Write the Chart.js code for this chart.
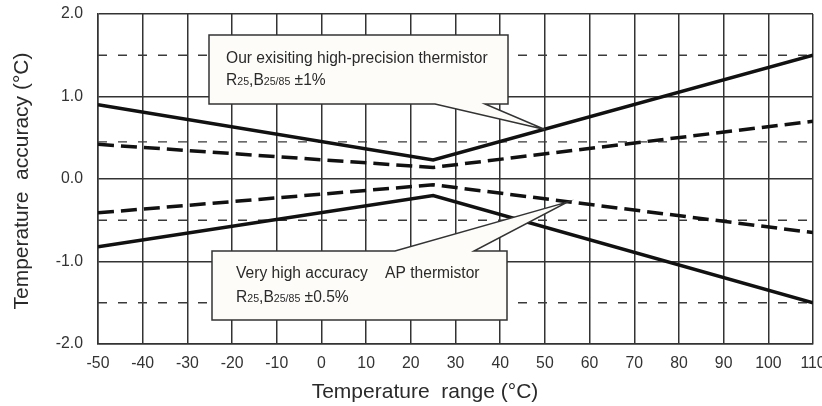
<!DOCTYPE html>
<html>
<head>
<meta charset="utf-8">
<script src="https://cdn.jsdelivr.net/npm/chart.js@4.4.0/dist/chart.umd.min.js"></script>
<style>
  html, body { margin: 0; padding: 0; background: #fff; }
</style>
</head>
<body>
<canvas id="accuracyChart" width="822" height="406"></canvas>
<script>
// Temperature accuracy of thermistors vs temperature

const tempX = [-50, 25, 110];
const existingUpper = [0.9, 0.23, 1.5];
const existingLower = [-0.82, -0.2, -1.5];
const apUpper = [0.42, 0.14, 0.7];
const apLower = [-0.41, -0.07, -0.65];

const limitX = [-50, 110];
const limitLevels = [1.5, 0.45, -0.5, -1.5];

const xTicks = [-50, -40, -30, -20, -10, 0, 10, 20, 30, 40, 50, 60, 70, 80, 90, 100, 110];
const yTicks = [-2, -1, 0, 1, 2];

// callout tips (data coordinates)
const existingTip = { x: 50, y: 0.6 };
const apTip = { x: 55, y: -0.28 };

const FONT = '"Liberation Sans", Arial, sans-serif';
const INK = '#2a2a2a';

function toPoints(xs, ys) {
    return xs.map((x, i) => ({ x: x, y: ys[i] }));
}

const datasets = [
    { data: toPoints(tempX, existingUpper), borderWidth: 3.5 },
    { data: toPoints(tempX, existingLower), borderWidth: 3.5 },
    { data: toPoints(tempX, apUpper), borderWidth: 3.5, borderDash: [16, 7] },
    { data: toPoints(tempX, apLower), borderWidth: 3.5, borderDash: [16, 7] }
].map(d => Object.assign({ borderColor: '#111', pointRadius: 0, tension: 0, fill: false, order: 0 }, d));

limitLevels.forEach(level => {
    datasets.push({
        data: toPoints(limitX, limitX.map(() => level)),
        borderColor: '#3a3a3a',
        borderWidth: 1.4,
        borderDash: [9, 11],
        pointRadius: 0,
        fill: false,
        order: 5
    });
});

// text with small subscripts, runs: [text, small]
function drawRuns(ctx, x, y, runs, size) {
    runs.forEach(r => {
        ctx.font = `${r[1] ? size * 0.68 : size}px ${FONT}`;
        ctx.fillText(r[0], x, y);
        x += ctx.measureText(r[0]).width;
    });
}

function drawCallout(ctx, pts, lines) {
    ctx.save();
    ctx.beginPath();
    ctx.moveTo(pts[0][0], pts[0][1]);
    pts.slice(1).forEach(p => ctx.lineTo(p[0], p[1]));
    ctx.closePath();
    ctx.fillStyle = '#fdfcf9';
    ctx.fill();
    ctx.lineWidth = 1.5;
    ctx.strokeStyle = '#333';
    ctx.stroke();
    ctx.fillStyle = INK;
    ctx.textBaseline = 'alphabetic';
    ctx.textAlign = 'left';
    lines.forEach(l => drawRuns(ctx, l.x, l.y, l.runs, 15.6));
    ctx.restore();
}

const calloutPlugin = {
    id: 'callouts',
    afterDatasetsDraw(chart) {
        const ctx = chart.ctx;
        const xs = chart.scales.x, ys = chart.scales.y;
        const t1 = [xs.getPixelForValue(existingTip.x), ys.getPixelForValue(existingTip.y)];
        const t2 = [xs.getPixelForValue(apTip.x), ys.getPixelForValue(apTip.y)];

        drawCallout(ctx,
            [[209, 35], [508, 35], [508, 104], [485, 104], t1, [435, 104], [209, 104]],
            [
                { x: 226, y: 63, runs: [['Our exisiting high-precision thermistor', false]] },
                { x: 226, y: 85, runs: [['R', false], ['25', true], [',B', false], ['25/85', true], [' \u00b11%', false]] }
            ]);

        drawCallout(ctx,
            [[212, 251], [395, 251], t2, [474, 251], [507, 251], [507, 320], [212, 320]],
            [
                { x: 236, y: 278, runs: [['Very high accuracy    AP thermistor', false]] },
                { x: 236, y: 302, runs: [['R', false], ['25', true], [',B', false], ['25/85', true], [' \u00b10.5%', false]] }
            ]);
    },
    afterDraw(chart) {
        const ctx = chart.ctx;
        ctx.save();
        ctx.fillStyle = INK;
        ctx.font = `21px ${FONT}`;
        ctx.textAlign = 'center';
        ctx.textBaseline = 'alphabetic';
        ctx.fillText('Temperature  range (\u00b0C)', 425, 398);
        ctx.translate(28, 181);
        ctx.rotate(-Math.PI / 2);
        ctx.fillText('Temperature  accuracy (\u00b0C)', 0, 0);
        ctx.restore();
    }
};

new Chart(document.getElementById('accuracyChart'), {
    type: 'line',
    data: { datasets: datasets },
    plugins: [calloutPlugin],
    options: {
        responsive: false,
        animation: false,
        events: [],
        layout: { padding: { left: 0, right: 9, top: 14, bottom: 0 } },
        plugins: { legend: { display: false }, tooltip: { enabled: false } },
        scales: {
            x: {
                type: 'linear',
                min: -50,
                max: 110,
                afterBuildTicks: s => { s.ticks = xTicks.map(v => ({ value: v })); },
                afterFit: s => { s.height = 62; s.paddingLeft = 0; s.paddingRight = 0; },
                ticks: { color: '#333', font: { family: FONT, size: 15.8 }, padding: 10, maxRotation: 0, autoSkip: false },
                grid: { color: '#333', lineWidth: 1.5, drawTicks: false },
                border: { color: '#333', width: 1.5 }
            },
            y: {
                type: 'linear',
                min: -2,
                max: 2,
                afterBuildTicks: s => { s.ticks = yTicks.map(v => ({ value: v })); },
                afterFit: s => { s.width = 98; s.paddingTop = 0; s.paddingBottom = 0; },
                ticks: { color: '#333', font: { family: FONT, size: 15.8 }, padding: 15, callback: v => v.toFixed(1) },
                grid: { color: '#333', lineWidth: 1.5, drawTicks: false },
                border: { color: '#333', width: 1.5 }
            }
        }
    }
});
</script>
</body>
</html>
